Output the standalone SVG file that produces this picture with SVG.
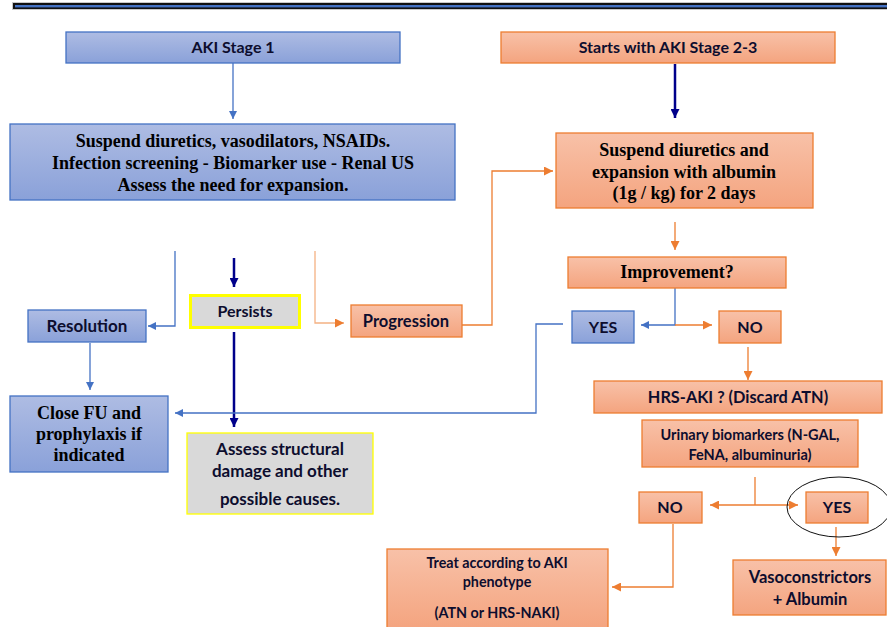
<svg xmlns="http://www.w3.org/2000/svg" width="887" height="627" viewBox="0 0 887 627">
<defs>
<linearGradient id="gb" x1="0" y1="0" x2="0" y2="1"><stop offset="0" stop-color="#aebce3"/><stop offset="1" stop-color="#8aa1d9"/></linearGradient>
<linearGradient id="go" x1="0" y1="0" x2="0" y2="1"><stop offset="0" stop-color="#f8c1a8"/><stop offset="1" stop-color="#f4a47f"/></linearGradient>
<marker id="ab" viewBox="0 0 10 10" refX="10" refY="5" markerWidth="8" markerHeight="8" markerUnits="userSpaceOnUse" orient="auto"><path d="M0,0 L10,5 L0,10 z" fill="#4472c4"/></marker>
<marker id="ao" viewBox="0 0 10 10" refX="10" refY="5" markerWidth="9" markerHeight="9" markerUnits="userSpaceOnUse" orient="auto"><path d="M0,0 L10,5 L0,10 z" fill="#ed7d31"/></marker>
<marker id="an" viewBox="0 0 10 10" refX="10" refY="5" markerWidth="9" markerHeight="9" markerUnits="userSpaceOnUse" orient="auto"><path d="M0,0 L10,5 L0,10 z" fill="#00008b"/></marker>
</defs>
<style>
.bb{fill:url(#gb);stroke:#4472c4;stroke-width:1.3}
.ob{fill:url(#go);stroke:#ed7d31;stroke-width:1.3}
.gy{fill:#d9d9d9;stroke:#ffff00}
.s{font-family:Lato,"Liberation Sans",sans-serif;font-weight:bold;fill:#0d0d2e;text-anchor:middle}
.t{font-family:"Liberation Serif","Times New Roman",serif;font-weight:bold;fill:#000;text-anchor:middle;font-size:18px}
.lb{fill:none;stroke:#4472c4;stroke-width:1.3}
.lo{fill:none;stroke:#ed7d31;stroke-width:1.3}
.ln{fill:none;stroke:#00008b;stroke-width:2.5}
</style>
<rect x="0" y="0" width="887" height="627" fill="#fff"/>
<g id="topbar">
<rect x="12" y="2" width="880" height="8" fill="#c8c8c8"/>
<rect x="13" y="3" width="880" height="6" fill="#111"/>
<rect x="15" y="5" width="880" height="2.4" fill="#4472c4"/>
</g>
<g id="connectors">
<line class="lb" x1="233" y1="63" x2="233" y2="119" marker-end="url(#ab)"/>
<line class="ln" x1="675" y1="64" x2="675" y2="118" marker-end="url(#an)"/>
<polyline class="lb" points="175,251 175,326 148,326" marker-end="url(#ab)"/>
<polyline class="lo" style="stroke:#f4b183" points="315,251 315,323 344,323" marker-end="url(#ao)"/>
<line class="ln" x1="234" y1="258" x2="234" y2="287" marker-end="url(#an)"/>
<line class="lb" x1="90" y1="343" x2="90" y2="390" marker-end="url(#ab)"/>
<line class="ln" x1="234" y1="332" x2="234" y2="427" marker-end="url(#an)"/>
<polyline class="lb" points="563,324 536,324 536,413 175,413" marker-end="url(#ab)"/>
<polyline class="lo" points="462,325 492,325 492,171 553,171" marker-end="url(#ao)"/>
<line class="lo" x1="675" y1="222" x2="675" y2="250" marker-end="url(#ao)"/>
<polyline class="lb" points="675,288 675,325 641,325" marker-end="url(#ab)"/>
<line class="lo" x1="675" y1="325" x2="712" y2="325" marker-end="url(#ao)"/>
<line class="lo" x1="748" y1="347" x2="748" y2="380" marker-end="url(#ao)"/>
<line class="lo" x1="755" y1="477" x2="755" y2="505"/>
<line class="lo" x1="755" y1="505" x2="710" y2="505" marker-end="url(#ao)"/>
<line class="lo" x1="755" y1="505" x2="798" y2="505" marker-end="url(#ao)"/>
<line class="lo" x1="836" y1="527" x2="836" y2="556" marker-end="url(#ao)"/>
<polyline class="lo" points="673,524 673,587 612,587" marker-end="url(#ao)"/>
</g>
<g id="stage1"><rect class="bb" x="66" y="32" width="334" height="31"/><text class="s" x="233" y="53" font-size="16">AKI Stage 1</text></g>
<g id="stage23"><rect class="ob" x="501" y="32" width="334" height="31"/><text class="s" x="668" y="53" font-size="16">Starts with AKI Stage 2-3</text></g>
<g id="suspend1"><rect class="bb" x="10" y="124" width="445" height="76"/>
<text class="t" x="233" y="147">Suspend diuretics, vasodilators, NSAIDs.</text>
<text class="t" x="233" y="169">Infection screening - Biomarker use - Renal US</text>
<text class="t" x="233" y="191">Assess the need for expansion.</text></g>
<g id="suspend2"><rect class="ob" x="556" y="133" width="257" height="75"/>
<text class="t" x="684" y="156">Suspend diuretics and</text>
<text class="t" x="684" y="178">expansion with albumin</text>
<text class="t" x="684" y="199">(1g / kg) for 2 days</text></g>
<g id="improvement"><rect class="ob" x="568" y="257" width="218" height="31"/><text class="t" x="677" y="278">Improvement?</text></g>
<g id="persists"><rect class="gy" x="190.5" y="295.5" width="109" height="32" stroke-width="3"/><text class="s" x="245" y="317" font-size="16">Persists</text></g>
<g id="resolution"><rect class="bb" x="28" y="310" width="118" height="32"/><text class="s" x="87" y="332" font-size="17">Resolution</text></g>
<g id="progression"><rect class="ob" x="351" y="305" width="111" height="32"/><text class="s" x="406" y="327" font-size="16.5">Progression</text></g>
<g id="closefu"><rect class="bb" x="10" y="396" width="158" height="76"/>
<text class="t" x="89" y="419">Close FU and</text>
<text class="t" x="89" y="440">prophylaxis if</text>
<text class="t" x="89" y="461">indicated</text></g>
<g id="assess"><rect class="gy" x="187" y="433" width="186" height="81" stroke-width="1.3"/>
<text class="s" x="280" y="455" font-size="17">Assess structural</text>
<text class="s" x="280" y="477" font-size="17">damage and other</text>
<text class="s" x="280" y="505" font-size="17">possible causes.</text></g>
<g id="yes1"><rect class="bb" x="572" y="311" width="62" height="32"/><text class="s" x="603" y="333" font-size="16">YES</text></g>
<g id="no1"><rect class="ob" x="719" y="311" width="62" height="32"/><text class="s" x="750" y="333" font-size="16">NO</text></g>
<g id="hrsaki"><rect class="ob" x="594" y="381" width="288" height="32"/><text class="s" x="738" y="403" font-size="16.3">HRS-AKI ? (Discard ATN)</text></g>
<g id="urinary"><rect class="ob" x="642" y="420" width="216" height="47"/>
<text class="s" x="750" y="440" font-size="14.5">Urinary biomarkers (N-GAL,</text>
<text class="s" x="750" y="460" font-size="14.5">FeNA, albuminuria)</text></g>
<g id="no2"><rect class="ob" x="639" y="492" width="63" height="31"/><text class="s" x="670" y="513" font-size="16">NO</text></g>
<g id="yes2"><rect class="ob" x="806" y="492" width="62" height="31"/><text class="s" x="837" y="513" font-size="16">YES</text></g>
<ellipse id="highlight" cx="839" cy="507" rx="52" ry="30" fill="none" stroke="#111" stroke-width="1"/>
<g id="vaso"><rect class="ob" x="733" y="560" width="153" height="55"/>
<text class="s" x="810" y="583" font-size="16.5">Vasoconstrictors</text>
<text class="s" x="810" y="605" font-size="16.5">+ Albumin</text></g>
<g id="treat"><rect class="ob" x="387" y="549" width="221" height="80"/>
<text class="s" x="497" y="568" font-size="14.3">Treat according to AKI</text>
<text class="s" x="497" y="587" font-size="14.3">phenotype</text>
<text class="s" x="497" y="618" font-size="14.3">(ATN or HRS-NAKI)</text></g>
</svg>
